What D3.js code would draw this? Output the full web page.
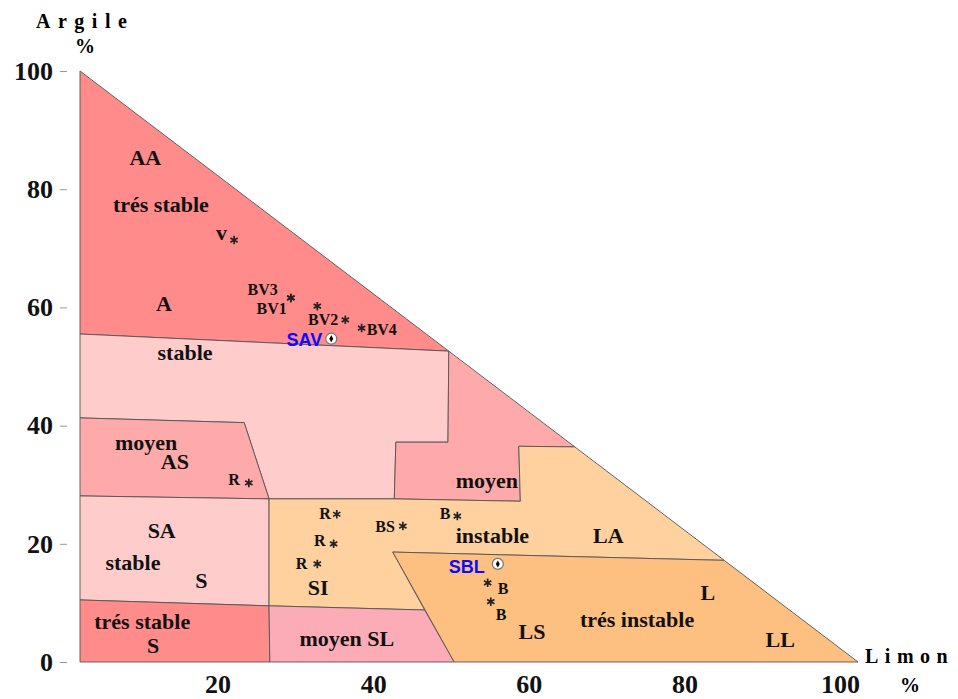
<!DOCTYPE html>
<html>
<head>
<meta charset="utf-8">
<script src="https://cdn.jsdelivr.net/npm/d3@7"></script>
<style>
  body { margin: 0; background: #fff; }
  text { font-family: "Liberation Serif", "Times New Roman", serif; }
</style>
</head>
<body>
<script>
var width  = 958
var height = 699

// zones of the triangle, [limon %, argile %] corners
var zoneNames  = ['tresStableA', 'stableA', 'moyenA', 'moyenAS', 'stableSA', 'tresStableS', 'instable', 'moyenSL', 'tresInstable']
var zoneFills  = ['#ff8b8b', '#ffcccc', '#ffaaaa', '#ffaaaa', '#ffcccc', '#ff8b8b', '#ffd19f', '#fcacb6', '#fec080']
var zoneCorners = [
  [[0, 100], [47.4, 52.6], [0, 55.5]],
  [[0, 55.5], [47.4, 52.6], [47.3, 37.2], [40.6, 37.2], [40.4, 27.6], [24.3, 27.6], [21.1, 40.5], [0, 41.3]],
  [[47.4, 52.6], [63.6, 36.4], [56.4, 36.5], [56.6, 27.2], [40.4, 27.6], [40.6, 37.2], [47.3, 37.2]],
  [[0, 41.3], [21.1, 40.5], [24.3, 27.6], [0, 28.1]],
  [[0, 28.1], [24.3, 27.6], [24.3, 9.5], [0, 10.5]],
  [[0, 10.5], [24.3, 9.5], [24.4, 0], [0, 0]],
  [[24.3, 27.6], [40.4, 27.6], [56.6, 27.2], [56.4, 36.5], [63.6, 36.4], [82.8, 17.2], [40.2, 18.6], [44.3, 8.8], [24.3, 9.5]],
  [[24.3, 9.5], [44.3, 8.8], [48.1, 0], [24.4, 0]],
  [[40.2, 18.6], [82.8, 17.2], [100, 0], [48.1, 0]]
]

// zone labels
var zoneLabels  = ['AA', 'trés stable', 'A', 'stable', 'moyen', 'AS', 'SA', 'stable', 'S', 'trés stable', 'S',
                   'moyen SL', 'SI', 'moyen', 'instable', 'LA', 'L', 'trés instable', 'LS', 'LL']
var zoneLabelLimon  = [8.4, 10.4, 10.8, 13.5, 8.5, 12.2, 10.5, 6.8, 15.6, 8.0, 9.4, 34.3, 30.6, 52.3, 53.0, 67.9, 80.7, 71.6, 58.1, 90.0]
var zoneLabelArgile = [84.1, 76.1, 59.4, 51.1, 35.9, 32.6, 21.0, 15.6, 12.5, 5.6, 1.5, 2.7, 11.3, 29.4, 20.1, 20.1, 10.5, 5.9, 3.9, 2.5]

// samples (stars)
var sampleNames  = ['v', 'BV3', 'BV1', '', 'BV2', 'BV4', 'R', 'R', 'R', 'R', 'BS', 'B', 'B', 'B']
var sampleLimon  = [19.8, 27.1, 27.1, 30.5, 34.1, 36.2, 21.7, 33.0, 32.6, 30.5, 41.5, 48.5, 52.4, 52.8]
var sampleArgile = [71.4, 61.6, 61.6, 60.2, 57.9, 56.5, 30.3, 25.0, 20.0, 16.6, 23.0, 24.7, 13.4, 10.2]
// label placement around each star: anchor, dx, dy
var sampleLabelPos = [['end', -7, 0], ['end', -13, -3], ['end', -4, 16], ['end', 0, 0], ['end', -7, 5], ['start', 5, 7],
                      ['end', -9, 2], ['end', -6, 5], ['end', -8, 2], ['end', -10, 5], ['end', -8, 6], ['end', -7, 3],
                      ['start', 10, 11], ['start', 5, 18]]

// sites
var siteNames  = ['SAV', 'SBL']
var siteLimon  = [32.3, 53.7]
var siteArgile = [54.7, 16.6]

var yTicks = [0, 20, 40, 60, 80, 100]
var xTicks = [20, 40, 60, 80, 100]

var x = d3.scaleLinear().domain([0, 100]).range([80, 858])
var y = d3.scaleLinear().domain([0, 100]).range([662, 71])

var svg = d3.select('body')
  .append('svg')
  .attr('width', width)
  .attr('height', height)

// zones
svg.append('g')
  .selectAll('path')
  .data(zoneCorners)
  .enter()
  .append('path')
  .attr('d', d => d3.line().x(p => x(p[0])).y(p => y(p[1]))(d) + 'Z')
  .attr('fill', (d, i) => zoneFills[i])
  .attr('stroke', '#555')
  .attr('stroke-width', 0.9)
  .attr('stroke-linejoin', 'round')

// axes
var yAxis = d3.axisLeft(y).tickValues(yTicks).tickSize(7).tickPadding(7)
var gy = svg.append('g')
  .attr('transform', 'translate(67,0)')
  .call(yAxis)
gy.select('.domain').remove()
gy.selectAll('line').attr('stroke', '#999')
gy.selectAll('text')
  .attr('fill', '#111')
  .style('font-family', '"Liberation Serif", serif')
  .style('font-size', '26px')
  .style('font-weight', 'bold')

var xAxis = d3.axisBottom(x).tickValues(xTicks).tickSize(0).tickPadding(13)
var gx = svg.append('g')
  .attr('transform', 'translate(0,662)')
  .call(xAxis)
gx.select('.domain').remove()
gx.selectAll('text')
  .attr('dx', -18)
  .attr('fill', '#111')
  .style('font-family', '"Liberation Serif", serif')
  .style('font-size', '26px')
  .style('font-weight', 'bold')

// axis titles
svg.append('text').attr('x', 36).attr('y', 28)
  .style('font-size', '20px').style('font-weight', 'bold').style('letter-spacing', '7.5px')
  .text('Argile')
svg.append('text').attr('x', 85).attr('y', 53).attr('text-anchor', 'middle')
  .style('font-size', '20px').style('font-weight', 'bold')
  .text('%')
svg.append('text').attr('x', 865).attr('y', 663)
  .style('font-size', '20px').style('font-weight', 'bold').style('letter-spacing', '6.5px')
  .text('Limon')
svg.append('text').attr('x', 910).attr('y', 692).attr('text-anchor', 'middle')
  .style('font-size', '20px').style('font-weight', 'bold')
  .text('%')

// zone labels
svg.append('g')
  .selectAll('text')
  .data(zoneLabels)
  .enter()
  .append('text')
  .attr('x', (d, i) => x(zoneLabelLimon[i]))
  .attr('y', (d, i) => y(zoneLabelArgile[i]))
  .attr('text-anchor', 'middle')
  .attr('fill', '#111')
  .style('font-size', '22px')
  .style('font-weight', 'bold')
  .text(d => d)

// stars
var star = d3.symbol().type(d3.symbolAsterisk).size(50)
var samples = svg.append('g')
  .selectAll('g')
  .data(sampleNames)
  .enter()
  .append('g')
  .attr('transform', (d, i) => 'translate(' + [x(sampleLimon[i]), y(sampleArgile[i])] + ')')

samples.append('path')
  .attr('d', star)
  .attr('stroke', '#222')
  .attr('stroke-width', 1.7)
  .attr('fill', 'none')

samples.append('text')
  .attr('text-anchor', (d, i) => sampleLabelPos[i][0])
  .attr('dx', (d, i) => sampleLabelPos[i][1])
  .attr('dy', (d, i) => sampleLabelPos[i][2])
  .attr('fill', '#111')
  .style('font-size', d => d === 'v' ? '22px' : '16px')
  .style('font-weight', 'bold')
  .text(d => d)

// sites
var sites = svg.append('g')
  .selectAll('g')
  .data(siteNames)
  .enter()
  .append('g')
  .attr('transform', (d, i) => 'translate(' + [x(siteLimon[i]), y(siteArgile[i])] + ')')

sites.append('circle')
  .attr('r', 5.5)
  .attr('fill', '#fff')
  .attr('stroke', '#777')
  .attr('stroke-width', 1.2)

sites.append('path')
  .attr('d', d3.symbol().type(d3.symbolDiamond).size(14))
  .attr('fill', '#000')

sites.append('text')
  .attr('text-anchor', 'end')
  .attr('dx', (d, i) => i === 0 ? -9 : -13)
  .attr('dy', (d, i) => i === 0 ? 7 : 9)
  .attr('fill', '#0a0aff')
  .style('font-family', '"Liberation Sans", Arial, sans-serif')
  .style('font-size', '18px')
  .style('font-weight', 'bold')
  .text(d => d)
</script>
</body>
</html>
